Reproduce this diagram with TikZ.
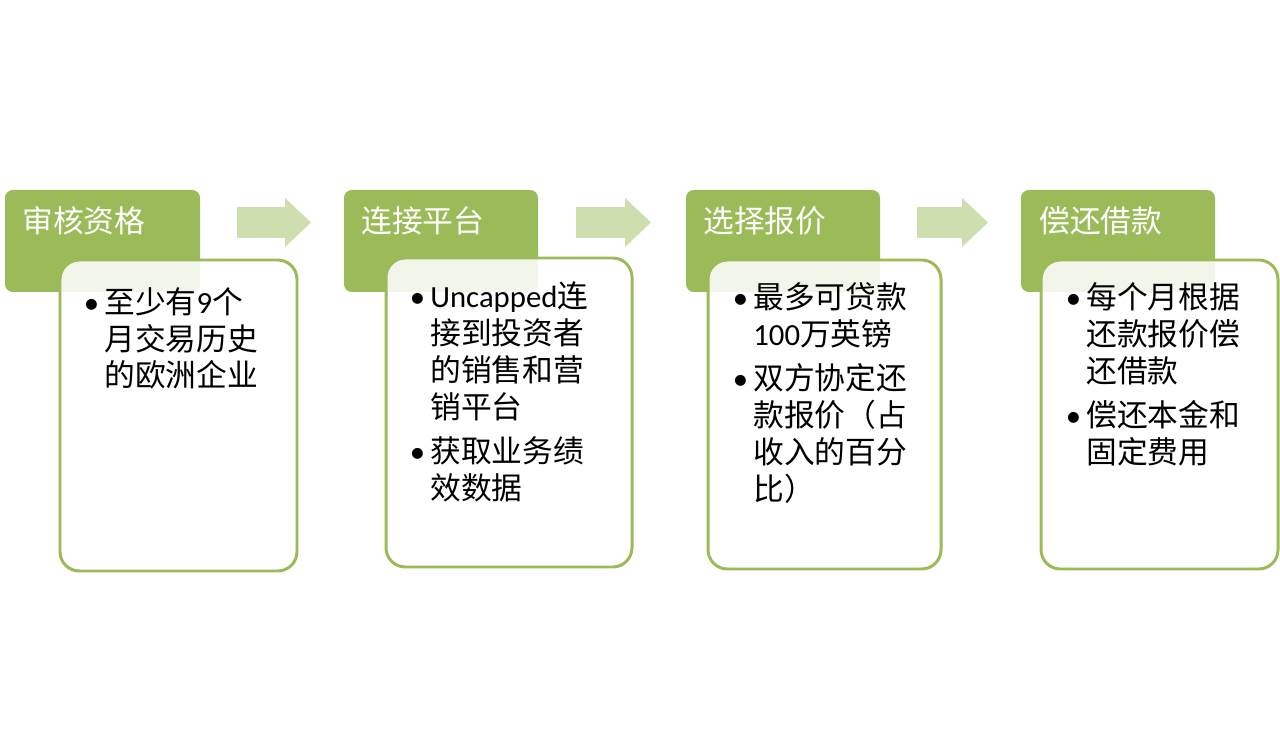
\documentclass[tikz,border=0pt]{standalone}
\usepackage{fontspec}
\setmainfont{Noto Sans CJK SC}
\newfontfamily\latin{Carlito}
\definecolor{leaf}{HTML}{9BBB59}
\newcommand\bul{\llap{{\latin\textbullet}\hspace{3pt}}}

\tikzset{
  headbox/.style={fill=leaf, rounded corners=4.5pt},
  bodybox/.style={draw=leaf, line width=1.7pt, fill=white, fill opacity=0.88, rounded corners=11pt},
  headtext/.style={anchor=west, inner sep=0pt, text=white, font=\fontsize{17.5}{21}\selectfont},
  bodytext/.style={anchor=base west, align=left, inner sep=0pt, font=\fontsize{17.5}{21}\selectfont},
  flow/.style={fill=leaf!48}
}

\begin{document}
\begin{tikzpicture}[x=0.02cm, y=-0.02cm]
\useasboundingbox (0,0) rectangle (1280,756);

% step arrows
\foreach \sx/\len in {237/74, 576/75, 917/71}
  \fill[flow, shift={(\sx,0)}] (0,207) -- (\len-26,207) -- (\len-26,198) -- (\len,222.5)
    -- (\len-26,247) -- (\len-26,238) -- (0,238) -- cycle;

% headers
\fill[headbox] (5,190) rectangle (200,292);
\fill[headbox] (344,190) rectangle (538,292);
\fill[headbox] (686,190) rectangle (880,292);
\fill[headbox] (1021,190) rectangle (1215,292);

% bodies
\draw[bodybox] (60,260) rectangle (297,571);
\draw[bodybox] (386,258) rectangle (632,567);
\draw[bodybox] (708,260) rectangle (941,569);
\draw[bodybox] (1041,260) rectangle (1278,569);

\node[headtext] (h1) at (22,221) {审核资格};
\node[headtext] (h2) at (361,221) {连接平台};
\node[headtext] (h3) at (703,221) {选择报价};
\node[headtext] (h4) at (1039,221) {偿还借款};

% anchored at the last line
\node[bodytext] (b1) at (104,387) {\bul 至少有{\latin 9}个\\月交易历史\\的欧洲企业};
\node[bodytext] (b2) at (430,499) {\bul {\latin Uncapped}连\\接到投资者\\的销售和营\\销平台\\[4pt]
  \bul 获取业务绩\\效数据};
\node[bodytext] (b3) at (753,500) {\bul 最多可贷款\\{\latin 100}万英镑\\[4pt]
  \bul 双方协定还\\款报价（占\\收入的百分\\比）};
\node[bodytext] (b4) at (1086,463) {\bul 每个月根据\\还款报价偿\\还借款\\[4pt]
  \bul 偿还本金和\\固定费用};
\end{tikzpicture}
\end{document}
